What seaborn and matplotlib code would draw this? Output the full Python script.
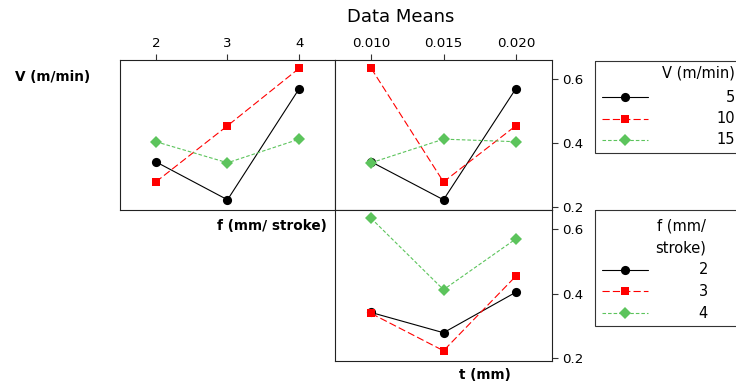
import matplotlib
matplotlib.use("Agg")
import matplotlib.pyplot as plt
from matplotlib.lines import Line2D
from matplotlib.patches import Rectangle
import seaborn as sns
import pandas as pd

# L9 orthogonal array: cutting speed, feed, depth of cut and measured response
V_levels = [5, 5, 5, 10, 10, 10, 15, 15, 15]
f_levels = [2, 3, 4, 2, 3, 4, 2, 3, 4]
t_levels = [0.010, 0.015, 0.020, 0.015, 0.020, 0.010, 0.020, 0.010, 0.015]
response = [0.341, 0.222, 0.570, 0.278, 0.454, 0.634, 0.404, 0.338, 0.412]

f_ticks = [2, 3, 4]
t_ticks = [0.010, 0.015, 0.020]
t_ticklabels = ["0.010", "0.015", "0.020"]
y_ticks = [0.2, 0.4, 0.6]

df = pd.DataFrame({"V": V_levels, "f": f_levels, "t": t_levels, "Mean": response})

sns.set_theme(style="white")
plt.rcParams["font.family"] = ["DejaVu Sans"]
plt.rcParams["text.color"] = "black"
plt.rcParams["xtick.color"] = "black"
plt.rcParams["ytick.color"] = "black"

GREEN = "#5cc45c"
markers = {0: "o", 1: "s", 2: "D"}
colors = {0: "black", 1: "#ff0000", 2: GREEN}
dashes = {0: "", 1: (6.5, 2.8), 2: (3.2, 1.8)}
msizes = {0: 6.6, 1: 6.2, 2: 6.0}

W, H = 736, 387
fig = plt.figure(figsize=(W / 100, H / 100), dpi=100)


def px_axes(x0, y0, x1, y1):
    return fig.add_axes([x0 / W, 1 - y1 / H, (x1 - x0) / W, (y1 - y0) / H])


ax1 = px_axes(120, 60, 335, 210)
ax2 = px_axes(335, 60, 552, 210)
ax3 = px_axes(335, 210, 552, 361)


def interaction(ax, x, hue):
    levels = sorted(df[hue].unique())
    idx = {lv: i for i, lv in enumerate(levels)}
    sns.lineplot(
        data=df, x=x, y="Mean", hue=hue, style=hue,
        palette={lv: colors[idx[lv]] for lv in levels},
        markers={lv: markers[idx[lv]] for lv in levels},
        dashes={lv: dashes[idx[lv]] for lv in levels},
        linewidth=0.8, markersize=7, markeredgewidth=0,
        errorbar=None, legend=False, ax=ax,
    )
    for line in ax.lines:
        c = line.get_color()
        for k, v in colors.items():
            if matplotlib.colors.same_color(c, v):
                line.set_markersize(msizes[k])


interaction(ax1, "f", "V")
interaction(ax2, "t", "V")
interaction(ax3, "t", "f")

for ax in (ax1, ax2, ax3):
    ax.set_ylim(0.19, 0.66)
    ax.set_xlabel("")
    ax.set_ylabel("")
    for s in ax.spines.values():
        s.set_color("#222222")
        s.set_linewidth(0.8)
        s.set_visible(True)
    ax.tick_params(colors="#333333", labelsize=9.6, length=4, width=0.8,
                   labelcolor="black")

ax1.set_xlim(1.5, 4.5)
ax2.set_xlim(0.0075, 0.0225)
ax3.set_xlim(0.0075, 0.0225)

ax1.set_xticks(f_ticks)
ax1.set_xticklabels([str(v) for v in f_ticks])
ax1.xaxis.tick_top()
ax1.set_yticks([])
ax1.tick_params(axis="x", bottom=False, top=True, pad=3)

ax2.set_xticks(t_ticks)
ax2.set_xticklabels(t_ticklabels)
ax2.xaxis.tick_top()
ax2.tick_params(axis="x", bottom=False, top=True, pad=3)

for ax in (ax2, ax3):
    ax.set_yticks(y_ticks)
    ax.set_yticklabels(["0.2", "0.4", "0.6"])
    ax.yaxis.tick_right()
    ax.tick_params(axis="y", left=False, right=True, pad=3)
ax3.set_xticks([])

# Overlay in pixel coordinates for titles, factor labels and legends
ov = fig.add_axes([0, 0, 1, 1], zorder=-1)
ov.set_xlim(0, W)
ov.set_ylim(H, 0)
ov.axis("off")

ov.text(401, 17, "Data Means", ha="center", va="center", fontsize=13)
ov.text(15, 77, "V (m/min)", ha="left", va="center", fontsize=9.8, fontweight="bold")
ov.text(327, 226, "f (mm/ stroke)", ha="right", va="center", fontsize=9.8, fontweight="bold")
ov.text(511, 375, "t (mm)", ha="right", va="center", fontsize=9.8, fontweight="bold")


def legend_block(top, bottom, title_lines, title_x, title_ha, rows, labels, label_x):
    ov.add_patch(Rectangle((595, top), 160, bottom - top, fill=False,
                           edgecolor="#333333", linewidth=0.8, clip_on=False))
    for ty, txt in title_lines:
        ov.text(title_x, ty, txt, ha=title_ha, va="center", fontsize=10.5)
    for k, (y, lab) in enumerate(zip(rows, labels)):
        ov.add_line(Line2D([602, 648], [y, y], color=colors[k], linewidth=0.8,
                           linestyle=(0, dashes[k]) if dashes[k] else "-"))
        ov.add_line(Line2D([625], [y], marker=markers[k], color=colors[k],
                           markersize=msizes[k], markeredgewidth=0))
        ov.text(label_x, y, lab, ha="right", va="center", fontsize=10.5)


legend_block(61, 153, [(73, "V (m/min)")], 735, "right",
             [97, 118.5, 140], [str(v) for v in sorted(set(V_levels))], 735)
legend_block(210, 326, [(226, "f (mm/"), (248, "stroke)")], 681, "center",
             [269.5, 291, 313], [str(v) for v in sorted(set(f_levels))], 708)

fig.savefig("out.png", dpi=100)
